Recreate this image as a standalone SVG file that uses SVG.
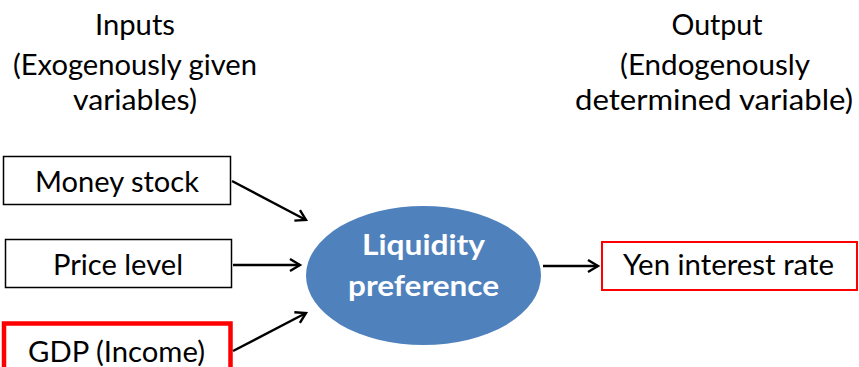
<svg xmlns="http://www.w3.org/2000/svg" width="859" height="367" viewBox="0 0 859 367">
<style>
.t{font-family:Lato,"Open Sans","Liberation Sans",sans-serif;font-size:29px;fill:#000;text-anchor:middle}
.w{font-family:Lato,"Open Sans","Liberation Sans",sans-serif;font-size:29px;font-weight:bold;fill:#fff;text-anchor:middle}
.box{fill:#fff;stroke:#000;stroke-width:1.5}
.conn{stroke:#000;stroke-width:2.4;fill:none}
</style>
<defs>
<marker id="ah" markerUnits="userSpaceOnUse" markerWidth="16" markerHeight="16" refX="13" refY="8" orient="auto">
<path d="M3,2 L13,8 L3,14" fill="none" stroke="#000" stroke-width="2.4"/>
</marker>
</defs>
<g id="heading-inputs">
<text class="t" x="135" y="35" textLength="80" lengthAdjust="spacingAndGlyphs">Inputs</text>
<text class="t" x="135" y="75" textLength="244" lengthAdjust="spacingAndGlyphs">(Exogenously given</text>
<text class="t" x="135" y="110" textLength="124" lengthAdjust="spacingAndGlyphs">variables)</text>
</g>
<g id="heading-output">
<text class="t" x="717" y="35" textLength="91" lengthAdjust="spacingAndGlyphs">Output</text>
<text class="t" x="715" y="75" textLength="190" lengthAdjust="spacingAndGlyphs">(Endogenously</text>
<text class="t" x="714" y="110" textLength="278" lengthAdjust="spacingAndGlyphs">determined variable)</text>
</g>
<g id="money-stock">
<rect class="box" x="3.5" y="156.5" width="227" height="48"/>
<text class="t" x="117" y="192" textLength="164" lengthAdjust="spacingAndGlyphs">Money stock</text>
</g>
<g id="price-level">
<rect class="box" x="5.5" y="239.5" width="226" height="48"/>
<text class="t" x="118" y="275" textLength="130" lengthAdjust="spacingAndGlyphs">Price level</text>
</g>
<g id="gdp">
<rect x="4" y="323.5" width="226.5" height="60" fill="#fff" stroke="#f00" stroke-width="4.5"/>
<text class="t" x="116.5" y="362" textLength="177" lengthAdjust="spacingAndGlyphs">GDP (Income)</text>
</g>
<g id="liquidity-preference">
<ellipse cx="423.5" cy="275.5" rx="117.5" ry="69.5" fill="#4f81bd"/>
<text class="w" x="423.5" y="255" textLength="123" lengthAdjust="spacingAndGlyphs">Liquidity</text>
<text class="w" x="423.5" y="296" textLength="151" lengthAdjust="spacingAndGlyphs">preference</text>
</g>
<g id="yen-interest-rate">
<rect x="602" y="242" width="255" height="48" fill="#fff" stroke="#f00" stroke-width="2"/>
<text class="t" x="728.5" y="275" textLength="211" lengthAdjust="spacingAndGlyphs">Yen interest rate</text>
</g>
<g id="connectors">
<line class="conn" x1="232" y1="181" x2="306" y2="220" marker-end="url(#ah)"/>
<line class="conn" x1="233" y1="265" x2="300" y2="265" marker-end="url(#ah)"/>
<line class="conn" x1="233" y1="351" x2="306" y2="313" marker-end="url(#ah)"/>
<line class="conn" x1="543" y1="266" x2="598" y2="266" marker-end="url(#ah)"/>
</g>
</svg>
